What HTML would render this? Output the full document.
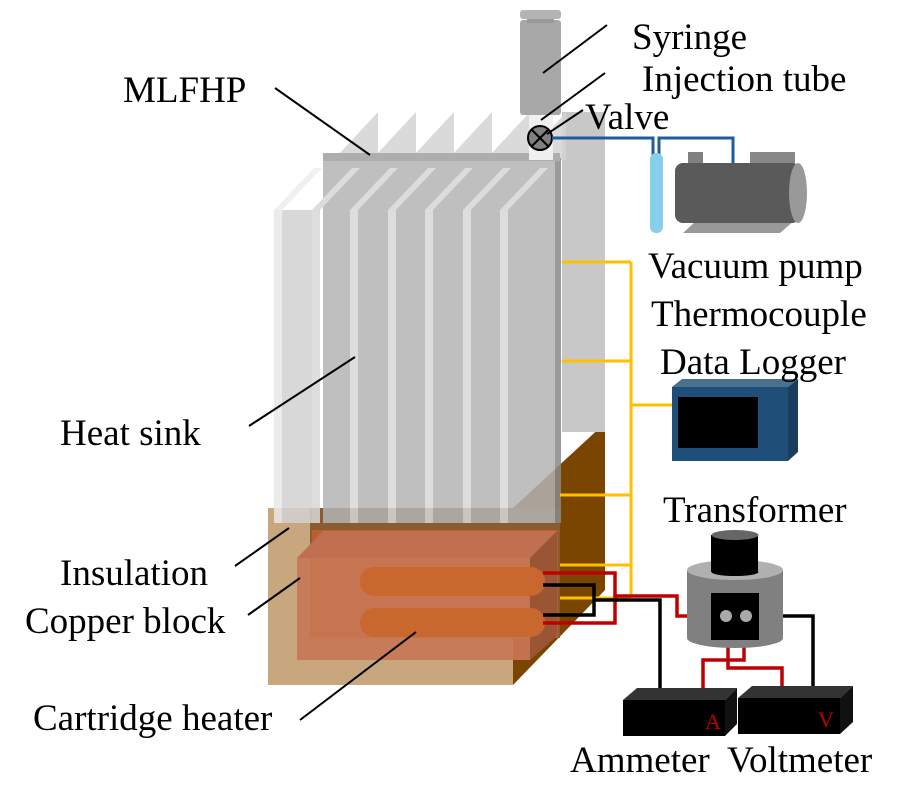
<!DOCTYPE html>
<html><head><meta charset="utf-8"><style>
html,body{margin:0;padding:0;background:#fff}
svg{display:block}
text{font-family:"Liberation Serif",serif;font-size:37px;fill:#000}
</style></head><body>
<svg width="902" height="805" viewBox="0 0 902 805" xmlns="http://www.w3.org/2000/svg">
<!-- insulation -->
<polygon points="513,508 605,423 605,590 513,685" fill="#7a4500"/>
<rect x="310" y="508" width="250" height="130" fill="#8a5c30"/>
<rect x="268" y="508" width="42" height="177" fill="#c8a77e"/>
<rect x="268" y="638" width="245" height="47" fill="#c8a77e"/>
<!-- right tall panel -->
<rect x="562" y="112" width="43" height="320" fill="#c8c8c8"/>
<g opacity="0.85">
<!-- back fin tops -->
<g fill="#d4d4d4">
<polygon points="338,155 378,112 378,160 338,160"/>
<polygon points="376,155 416,112 416,160 376,160"/>
<polygon points="414,155 454,112 454,160 414,160"/>
<polygon points="452,155 492,112 492,160 452,160"/>
<polygon points="490,155 530,112 530,160 490,160"/>
<polygon points="528,155 566,112 566,160 528,160"/>
</g>
<rect x="323" y="160" width="237" height="363" fill="#b4b4b4"/>
<rect x="555" y="158" width="6" height="365" fill="#8a8a8a"/>
<rect x="323" y="153" width="237" height="8" fill="#a0a0a0"/>
<polygon points="274,210 314,168 322,168 282,210" fill="#eeeeee"/>
<rect x="274" y="210" width="8" height="313" fill="#e8e8e8"/>
<rect x="282" y="210" width="30" height="313" fill="#d2d2d2"/>
<g>
<polygon points="312,210 352,168 360,168 320,210" fill="#d6d6d6"/><rect x="312" y="210" width="8" height="313" fill="#d8d8d8"/>
<polygon points="350,210 390,168 398,168 358,210" fill="#d6d6d6"/><rect x="350" y="210" width="8" height="313" fill="#d8d8d8"/>
<polygon points="388,210 428,168 436,168 396,210" fill="#d6d6d6"/><rect x="388" y="210" width="8" height="313" fill="#d8d8d8"/>
<polygon points="425,210 465,168 473,168 433,210" fill="#d6d6d6"/><rect x="425" y="210" width="8" height="313" fill="#d8d8d8"/>
<polygon points="463,210 503,168 511,168 471,210" fill="#d6d6d6"/><rect x="463" y="210" width="8" height="313" fill="#d8d8d8"/>
<polygon points="500,210 540,168 548,168 508,210" fill="#d6d6d6"/><rect x="500" y="210" width="8" height="313" fill="#d8d8d8"/>
</g>
</g>
<!-- copper -->
<rect x="312" y="530" width="246" height="108" fill="#b8602f"/>
<polygon points="297,558 323,531 557,531 530,558" fill="#c07050"/>
<polygon points="530,558 557,531 557,636 530,660" fill="#9a5535"/>
<rect x="297" y="558" width="233" height="102" fill="#c87755" opacity="0.92"/>
<rect x="360" y="567" width="185" height="29" rx="14" fill="#c8682e"/>
<rect x="360" y="608" width="185" height="29" rx="14" fill="#c8682e"/>
<!-- yellow thermocouple lines -->
<g stroke="#ffc000" stroke-width="3" fill="none">
<line x1="631" y1="262" x2="631" y2="598"/>
<line x1="562" y1="262" x2="631" y2="262"/>
<line x1="562" y1="361" x2="631" y2="361"/>
<line x1="560" y1="495" x2="631" y2="495"/>
<line x1="560" y1="565" x2="631" y2="565"/>
<line x1="560" y1="598" x2="631" y2="598"/>
<line x1="631" y1="405" x2="672" y2="405"/>
</g>
<!-- wires -->
<g fill="none" stroke-width="3.5">
<polyline points="543,573 615,573 615,623 543,623" stroke="#c00000"/>
<polyline points="543,585 594,585 594,615 543,615" stroke="#000"/>
<polyline points="615,596 677,596 677,616 726,616" stroke="#c00000"/>
<polyline points="594,600 660,600 660,690" stroke="#000"/>
<polyline points="746,616 813,616 813,688" stroke="#000"/>
<polyline points="728,616 728,668 782,668 782,688" stroke="#c00000"/>
<polyline points="744,616 744,660 703,660 703,690" stroke="#c00000"/>
</g>
<!-- transformer -->
<rect x="687" y="570" width="96" height="68" fill="#808080"/>
<ellipse cx="735" cy="638" rx="48" ry="10" fill="#808080"/>
<ellipse cx="735" cy="570" rx="48" ry="10" fill="#b0b0b0"/>
<rect x="711" y="535" width="47" height="37" fill="#000"/>
<ellipse cx="735" cy="572" rx="23.5" ry="4" fill="#000"/>
<ellipse cx="735" cy="535" rx="23.5" ry="5" fill="#666"/>
<rect x="711" y="593" width="48" height="47" fill="#000"/>
<circle cx="726" cy="616" r="6" fill="#aaa"/>
<circle cx="746" cy="616" r="6" fill="#aaa"/>
<!-- ammeter / voltmeter -->
<polygon points="623,700 637,688 737,688 725,700" fill="#333"/>
<polygon points="725,700 737,688 737,724 725,736" fill="#111"/>
<rect x="623" y="700" width="102" height="36" fill="#000"/>
<text x="705" y="729" style="font-size:22px;fill:#c00000">A</text>
<polygon points="738,698 752,686 853,686 840,698" fill="#333"/>
<polygon points="840,698 853,686 853,722 840,734" fill="#111"/>
<rect x="738" y="698" width="102" height="36" fill="#000"/>
<text x="818" y="727" style="font-size:22px;fill:#c00000">V</text>
<!-- syringe -->
<rect x="520" y="20" width="41" height="95" rx="3" fill="#a8a8a8"/>
<rect x="520" y="10" width="41" height="9" rx="3" fill="#b4b4b4"/>
<rect x="527" y="19" width="27" height="4" fill="#999"/>
<rect x="529" y="115" width="24" height="45" fill="#f0f0f0"/>
<circle cx="540" cy="138" r="12" fill="#808080" stroke="#000" stroke-width="2"/>
<line x1="532" y1="130" x2="548" y2="146" stroke="#000" stroke-width="2"/>
<line x1="548" y1="130" x2="532" y2="146" stroke="#000" stroke-width="2"/>
<!-- blue line and vial -->
<g fill="none" stroke="#1f5b99" stroke-width="3">
<polyline points="552,138 653,138 653,155"/>
<polyline points="659,155 659,138 733,138 733,170"/>
</g>
<rect x="650" y="153" width="13" height="80" rx="6" fill="#87ceeb"/>
<!-- pump -->
<polygon points="683,233 780,233 795,220 697,220" fill="#999"/>
<rect x="688" y="152" width="15" height="14" fill="#808080"/>
<rect x="750" y="152" width="45" height="15" fill="#888"/>
<rect x="675" y="163" width="125" height="60" rx="8" fill="#5a5a5a"/>
<ellipse cx="798" cy="193" rx="9" ry="30" fill="#999"/>
<!-- data logger -->
<polygon points="672,387 682,379 798,379 788,387" fill="#4a7090"/>
<polygon points="788,387 798,379 798,452 788,461" fill="#1a3d5c"/>
<rect x="672" y="387" width="116" height="74" fill="#1f4e79"/>
<rect x="678" y="397" width="80" height="51" fill="#000"/>
<!-- leader lines -->
<g stroke="#000" stroke-width="2">
<line x1="275" y1="88" x2="370" y2="155"/>
<line x1="607" y1="25" x2="543" y2="73"/>
<line x1="605" y1="73" x2="541" y2="120"/>
<line x1="583" y1="110" x2="547" y2="134"/>
<line x1="249" y1="426" x2="355" y2="357"/>
<line x1="235" y1="566" x2="289" y2="528"/>
<line x1="248" y1="615" x2="300" y2="578"/>
<line x1="300" y1="720" x2="416" y2="632"/>
</g>
<!-- labels -->
<text x="123" y="102">MLFHP</text>
<text x="632" y="49">Syringe</text>
<text x="642" y="91">Injection tube</text>
<text x="585" y="129">Valve</text>
<text x="648" y="278">Vacuum pump</text>
<text x="651" y="326">Thermocouple</text>
<text x="660" y="374">Data Logger</text>
<text x="60" y="445">Heat sink</text>
<text x="663" y="522">Transformer</text>
<text x="60" y="585">Insulation</text>
<text x="25" y="633">Copper block</text>
<text x="33" y="730">Cartridge heater</text>
<text x="570" y="772">Ammeter</text>
<text x="727" y="772">Voltmeter</text>
</svg>
</body></html>
